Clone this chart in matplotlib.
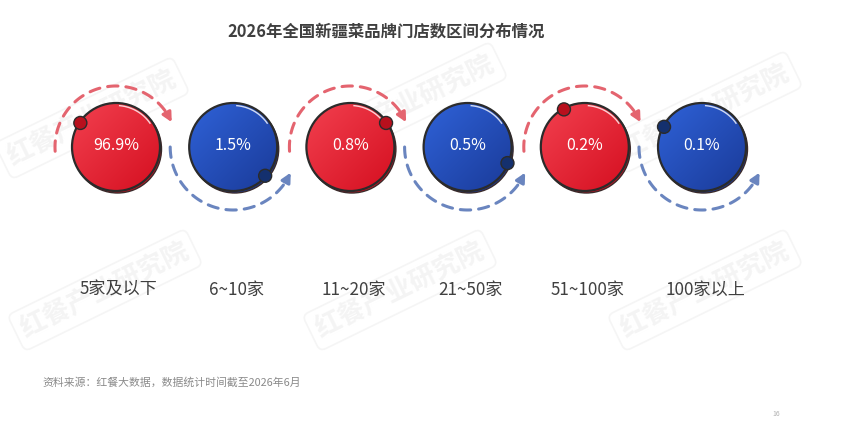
import numpy as np
import matplotlib
matplotlib.use("Agg")
import matplotlib.pyplot as plt
from matplotlib.patches import Circle
from matplotlib.colors import to_rgb

plt.rcParams['font.family'] = ['Noto Sans CJK SC', 'DejaVu Sans']

# data
title = "2026年全国新疆菜品牌门店数区间分布情况"
categories = ["5家及以下", "6~10家", "11~20家", "21~50家", "51~100家", "100家以上"]
shares = [96.9, 1.5, 0.8, 0.5, 0.2, 0.1]
source = "资料来源：红餐大数据，数据统计时间截至2026年6月"

# style
RED_LIGHT, RED_DARK, RED_DOT, RED_ARC = "#f2404f", "#d50f20", "#b8101d", "#e4646f"
BLUE_LIGHT, BLUE_DARK, BLUE_DOT, BLUE_ARC = "#2f62d8", "#1a3a98", "#14306e", "#6a85bf"
dot_angles = [146, -42, 34, -22, 119, 152]
X0, DX, CY, R = 116, 117.2, 147, 44

fig = plt.figure(figsize=(8.5, 4.21), dpi=100)
ax = fig.add_axes([0, 0, 1, 1])
ax.axis("off")


def gradient(c1, c2, n=80):
    a, b = np.array(to_rgb(c1)), np.array(to_rgb(c2))
    yy, xx = np.mgrid[0:n, 0:n] / (n - 1)
    t = ((xx + yy) / 2)[..., None]
    return a * (1 - t) + b * t


def dashed_arc(cx, cy, r, a0, a1, color):
    th = np.radians(np.linspace(a0, a1, 120))
    x, y = cx + r * np.cos(th), cy - r * np.sin(th)
    ax.plot(x[:-6], y[:-6], color=color, lw=2.2, ls=(0, (3.4, 2.6)),
            solid_capstyle="round", dash_capstyle="round", zorder=2)
    ax.annotate("", xy=(x[-1], y[-1]), xytext=(x[-8], y[-8]),
                arrowprops=dict(arrowstyle="-|>,head_length=0.55,head_width=0.28",
                                color=color, lw=2.2, shrinkA=0, shrinkB=0), zorder=2)


# faint watermarks
for wx, wy in [(92, 118), (410, 103), (705, 112), (105, 290), (400, 290), (705, 290)]:
    ax.text(wx, wy, "红餐产业研究院", rotation=26, ha="center", va="center",
            fontsize=19, fontweight="bold", color="#f4f4f4", zorder=0,
            bbox=dict(boxstyle="round,pad=0.25", fc="none", ec="#f5f5f5", lw=1.2))

for i, (cat, val) in enumerate(zip(categories, shares)):
    cx = X0 + i * DX
    red = i % 2 == 0
    light, dark = (RED_LIGHT, RED_DARK) if red else (BLUE_LIGHT, BLUE_DARK)
    if red:
        dashed_arc(cx, CY, 61, 184, 24, RED_ARC)
    else:
        dashed_arc(cx, CY, 63, 180, 336, BLUE_ARC)

    # shadow / sketchy outline
    ax.add_patch(Circle((cx + 1.5, CY + 2), R, fc=dark, ec="#3a2a2a", lw=1.0, zorder=3))
    circ = Circle((cx, CY), R, fc="none", ec="#2b2b2b", lw=1.6, zorder=5)
    ax.add_patch(circ)
    im = ax.imshow(gradient(light, dark), extent=(cx - R, cx + R, CY + R, CY - R),
                   zorder=4, interpolation="bilinear", aspect="auto")
    im.set_clip_path(circ)
    th = np.radians(np.linspace(35, 85, 30))
    ax.plot(cx + (R - 2.5) * np.cos(th), CY - (R - 2.5) * np.sin(th),
            color="white", lw=1.0, alpha=0.8, zorder=6)

    a = np.radians(dot_angles[i])
    ax.add_patch(Circle((cx + (R - 1) * np.cos(a), CY - (R - 1) * np.sin(a)), 6.5,
                        fc=RED_DOT if red else BLUE_DOT, ec="#2b2b2b", lw=1.0, zorder=7))

    ax.text(cx, CY - 2, f"{val}%", ha="center", va="center", color="white",
            fontsize=11.5, zorder=8)
    ax.text(cx + 3, 290, cat, ha="center", va="center", color="#404040", fontsize=12.3)

ax.text(386, 32, title, ha="center", va="center", fontsize=11.8,
        fontweight="bold", color="#3f3f3f")
ax.text(42, 382, source, ha="left", va="center", fontsize=7.8, color="#8a8a8a")
ax.text(776, 414, "16", ha="center", va="center", fontsize=5, color="#b0b0b0")

ax.set_xlim(0, 850)
ax.set_ylim(421, 0)
fig.savefig("out.png", dpi=100, facecolor="white")
